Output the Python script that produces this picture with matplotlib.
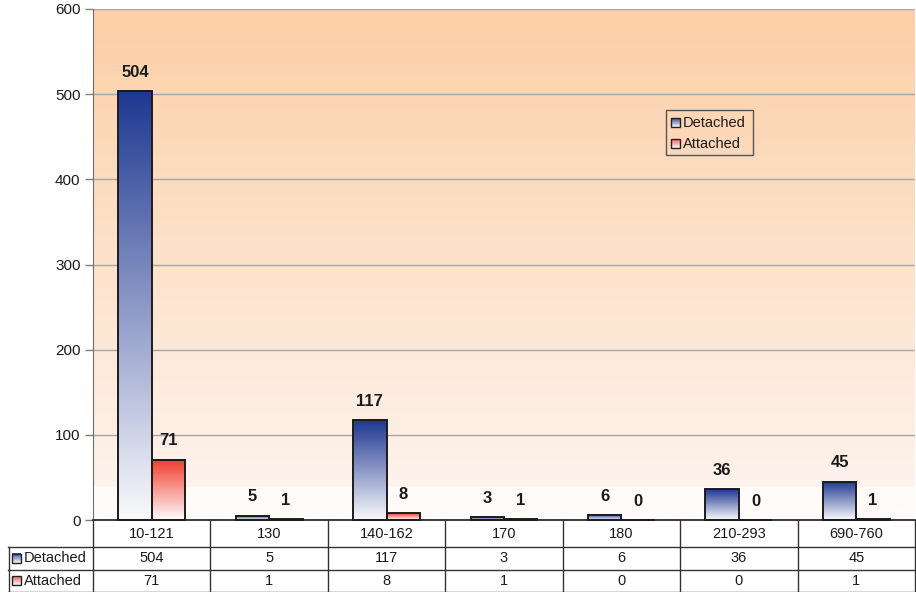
import numpy as np
import matplotlib
matplotlib.use("Agg")
import matplotlib.pyplot as plt
from matplotlib.lines import Line2D
from matplotlib.patches import Rectangle

plt.rcParams['font.family'] = ['Liberation Sans', 'DejaVu Sans']

categories = ["10-121", "130", "140-162", "170", "180", "210-293", "690-760"]
detached = [504, 5, 117, 3, 6, 36, 45]
attached = [71, 1, 8, 1, 0, 0, 1]
series_names = ["Detached", "Attached"]
yticks = [0, 100, 200, 300, 400, 500, 600]

W, H = 916, 592
fig = plt.figure(figsize=(W / 100, H / 100), dpi=100)
fig.patch.set_facecolor("white")


def fx(x):
    return x / W


def fy(y):
    return 1 - y / H


ax = fig.add_axes([fx(93), fy(520), fx(915) - fx(93), fy(9) - fy(520)])
ax.set_xlim(-0.5, len(categories) - 0.5)
ax.set_ylim(0, 600)
ax.set_facecolor("none")

# plot-area background: orange at the top fading to white near the base
n = 400
t = np.linspace(0, 1, n)[:, None]  # 0 at top, 1 at bottom
top = np.array([252, 207, 166]) / 255
mid = np.array([254, 243, 237]) / 255
low = np.array([255, 251, 249]) / 255
cut = (487 - 9) / (520 - 9)
bg = np.where(t < cut, top + (mid - top) * (t / cut), low)
bg = bg.reshape(n, 1, 3)
ax.imshow(bg, extent=[0, 1, 0, 1], transform=ax.transAxes, aspect="auto",
          zorder=0, interpolation="bilinear")

for yv in yticks[1:]:
    ax.axhline(yv, color="#a6a6a6", lw=1.0, zorder=1)

blue_top = np.array([30, 55, 145]) / 255
red_top = np.array([240, 60, 45]) / 255
white = np.array([250, 250, 252]) / 255


def gradient(c_top, c_bot, steps=200):
    s = np.linspace(0, 1, steps)[:, None]
    return (c_top + (c_bot - c_top) * s).reshape(steps, 1, 3)


grad_blue = gradient(blue_top, white)
grad_red = gradient(red_top, np.array([255, 250, 250]) / 255)

bw = 0.285
x = np.arange(len(categories))
for vals, offs, grad in [(detached, -bw, grad_blue), (attached, 0.0, grad_red)]:
    for xi, v in zip(x, vals):
        x0 = xi + offs
        if v > 0:
            ax.imshow(grad, extent=[x0, x0 + bw, 0, v], aspect="auto",
                      zorder=2, interpolation="bilinear")
        ax.add_patch(Rectangle((x0, 0), bw, v, facecolor="none",
                               edgecolor="#1c1c1c", lw=1.4, zorder=3,
                               clip_on=False))
        ax.annotate(str(v), (x0 + bw / 2, v), xytext=(0, 13.5),
                    textcoords="offset points", ha="center", va="center",
                    fontsize=12, fontweight="bold", color="#1a1a1a", zorder=4)

ax.set_xlim(-0.5, len(categories) - 0.5)
ax.set_ylim(0, 600)
ax.set_xticks([])
ax.set_yticks(yticks)
ax.tick_params(axis="y", length=6, width=1, color="#7f7f7f", labelsize=11,
               labelcolor="#1a1a1a", pad=3)
for s in ["top", "right"]:
    ax.spines[s].set_visible(False)
ax.spines["left"].set_color("#6e6e6e")
ax.spines["bottom"].set_color("#1a1a1a")
ax.spines["bottom"].set_linewidth(1.2)

# data table underneath the axis
trans_x = matplotlib.transforms.blended_transform_factory(ax.transData, fig.transFigure)
line_kw = dict(color="#333333", lw=1.0)
for k in range(len(categories) + 1):
    xb = k - 0.5
    fig.add_artist(Line2D([xb, xb], [fy(520), fy(591.5)], transform=trans_x, **line_kw))
for yy in [547, 570, 591.5]:
    fig.add_artist(Line2D([fx(8), fx(915.5)], [fy(yy), fy(yy)], transform=fig.transFigure, **line_kw))
fig.add_artist(Line2D([fx(8.5), fx(8.5)], [fy(547), fy(591.5)], transform=fig.transFigure, **line_kw))
fig.add_artist(Line2D([fx(915.5), fx(915.5)], [fy(520), fy(591.5)], transform=fig.transFigure, **line_kw))

for xi, c, d, a in zip(x, categories, detached, attached):
    for yy, s in [(533.5, c), (558.5, str(d)), (581, str(a))]:
        fig.text(xi, fy(yy), s, transform=trans_x, ha="center", va="center",
                 fontsize=10.5, color="#1a1a1a")


def marker(x0, y0, grad):
    # small gradient square used as a series key
    ax.imshow(grad, extent=[fx(x0), fx(x0 + 9), fy(y0 + 9), fy(y0)],
              transform=fig.transFigure, aspect="auto", zorder=6,
              clip_on=False, interpolation="bilinear")
    fig.add_artist(Rectangle((fx(x0), fy(y0 + 9)), fx(9), 9 / H,
                             transform=fig.transFigure, facecolor="none",
                             edgecolor="#222222", lw=1.0, zorder=7))


key_blue = gradient(blue_top * 0.9 + 0.1 * white, white, 50)
key_red = gradient(red_top * 0.8 + 0.2 * white, white, 50)

for yy, name, g in [(553.5, series_names[0], key_blue), (576, series_names[1], key_red)]:
    marker(12, yy, g)
    fig.text(fx(23.5), fy(yy + 5), name, ha="left", va="center", fontsize=10.5, color="#1a1a1a")

# legend box
fig.add_artist(Rectangle((fx(666), fy(155)), fx(753) - fx(666), (155 - 110) / H,
                         transform=fig.transFigure, facecolor="none",
                         edgecolor="#555555", lw=1.0, zorder=5))
for yy, name, g in [(118, series_names[0], key_blue), (139.5, series_names[1], key_red)]:
    marker(671, yy, g)
    fig.text(fx(682.5), fy(yy + 5), name, ha="left", va="center", fontsize=10.5, color="#1a1a1a")

fig.savefig("out.png", dpi=100)
